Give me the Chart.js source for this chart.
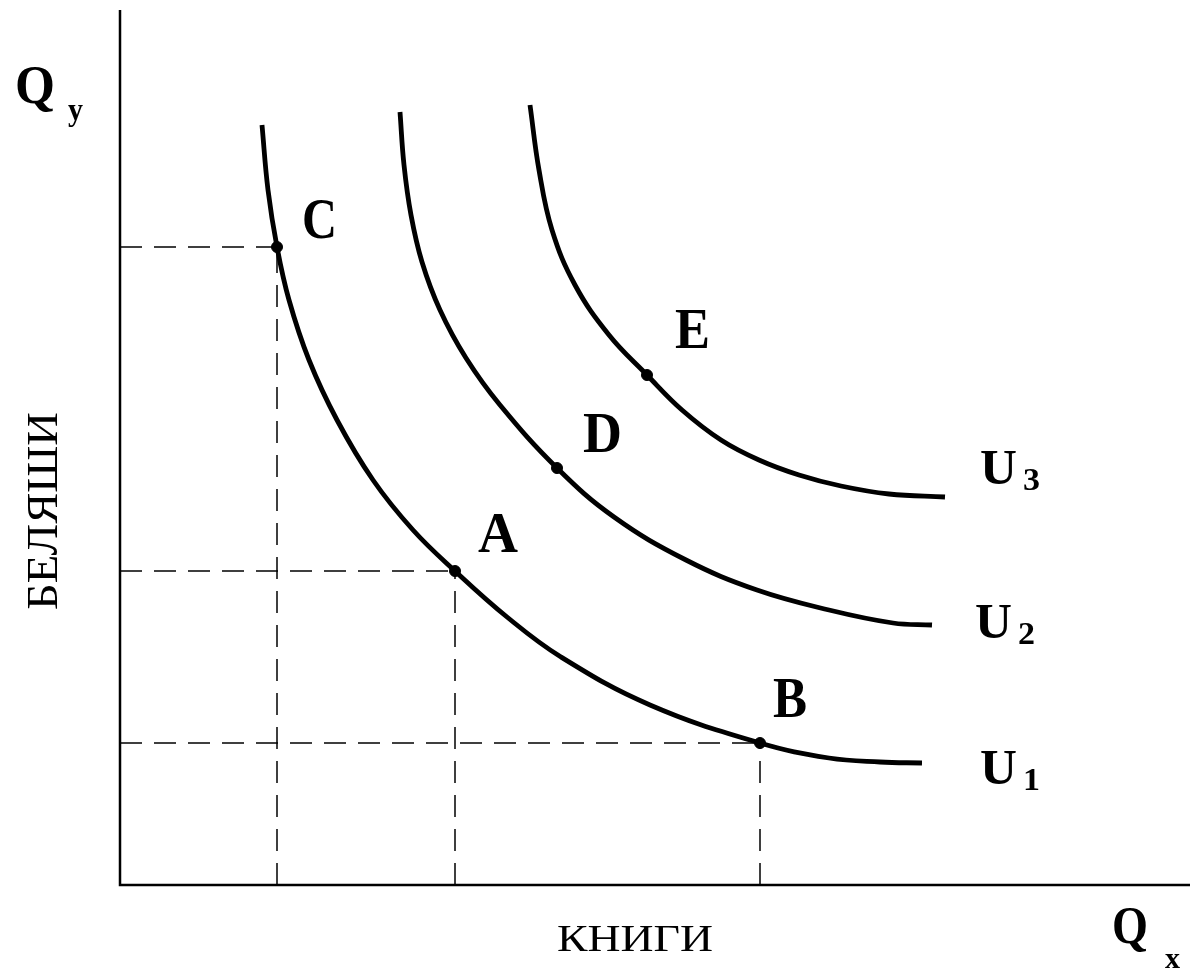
<!DOCTYPE html>
<html>
<head>
<meta charset="utf-8">
<script src="https://cdn.jsdelivr.net/npm/chart.js@4.4.1/dist/chart.umd.min.js"></script>
<style>
  html, body { margin: 0; padding: 0; background: #fff; }
  canvas { display: block; }
</style>
</head>
<body>
<canvas id="chart" width="1190" height="972"></canvas>
<script>
// indifference curves (arbitrary units: books on x, belyashi on y)
var u1X = [14.2, 14.8, 15.7, 16.9, 18.9, 21.7, 25.3, 29.3, 33.5, 38.7, 44.1, 53.0, 64.0, 70.9, 76.0, 80.2];
var u1Y = [76.0, 69.5, 63.8, 58.5, 52.5, 46.5, 40.5, 35.5, 31.4, 26.8, 22.8, 18.0, 14.2, 12.7, 12.3, 12.2];

var u2X = [28.0, 28.4, 29.1, 30.2, 32.0, 34.6, 38.0, 43.7, 49.4, 56.6, 63.7, 70.9, 77.3, 81.2];
var u2Y = [77.3, 72.0, 67.0, 62.3, 57.5, 52.7, 48.0, 41.7, 36.8, 32.5, 29.5, 27.5, 26.2, 26.0];

var u3X = [41.0, 41.9, 43.2, 45.5, 48.9, 52.7, 56.2, 60.1, 63.9, 67.9, 72.1, 76.9, 82.5];
var u3Y = [78.0, 71.5, 65.5, 60.0, 55.0, 51.0, 47.5, 44.5, 42.5, 41.0, 39.9, 39.1, 38.8];

var curveNames = ['U1', 'U2', 'U3'];

// marked bundles
var pointNames = ['C', 'A', 'B', 'D', 'E'];
var pointX = [15.7, 33.5, 64.0, 43.7, 52.7];
var pointY = [63.8, 31.4, 14.2, 41.7, 51.0];
var guidePoints = ['C', 'A', 'B'];   // these get dashed projections to the axes

var axisMaxX = 107;
var axisMaxY = 87.5;

var xTitle = 'КНИГИ';
var yTitle = 'БЕЛЯШИ';

function zip(xs, ys) {
  return xs.map(function(x, i) { return { x: x, y: ys[i] }; });
}

function stretchText(ctx, text, x, y, font, width) {
  ctx.save();
  ctx.font = font;
  var w = ctx.measureText(text).width;
  ctx.translate(x, y);
  ctx.scale(width / w, 1);
  ctx.fillText(text, 0, 0);
  ctx.restore();
}

var datasets = [];

// axes
datasets.push({
  data: [{ x: 0, y: axisMaxY }, { x: 0, y: 0 }, { x: axisMaxX, y: 0 }],
  borderColor: '#000', borderWidth: 2.5, pointRadius: 0, clip: false, tension: 0
});

// dashed projections, each dash run starting at its axis
guidePoints.forEach(function(name) {
  var i = pointNames.indexOf(name);
  var dash = { borderColor: '#000', borderWidth: 1.5, borderDash: [22, 12], pointRadius: 0, clip: false, tension: 0 };
  datasets.push(Object.assign({ data: [{ x: 0, y: pointY[i] }, { x: pointX[i], y: pointY[i] }] }, dash));
  datasets.push(Object.assign({ data: [{ x: pointX[i], y: 0 }, { x: pointX[i], y: pointY[i] }] }, dash));
});

// curves
[[u1X, u1Y], [u2X, u2Y], [u3X, u3Y]].forEach(function(c) {
  datasets.push({
    data: zip(c[0], c[1]),
    borderColor: '#000', borderWidth: 4.8, pointRadius: 0,
    tension: 0.4, clip: false, borderCapStyle: 'butt'
  });
});

// bundle dots
datasets.push({
  data: zip(pointX, pointY),
  showLine: false, pointRadius: 5.5, pointBackgroundColor: '#000',
  pointBorderColor: '#000', clip: false
});

var labelPlugin = {
  id: 'labels',
  beforeDraw: function(chart) {
    var ctx = chart.ctx;
    ctx.save();
    ctx.fillStyle = '#fff';
    ctx.fillRect(0, 0, chart.width, chart.height);
    ctx.restore();
  },
  afterDraw: function(chart) {
    var ctx = chart.ctx;
    var xs = chart.scales.x, ys = chart.scales.y;
    var area = chart.chartArea;
    ctx.save();
    ctx.fillStyle = '#000';
    ctx.textAlign = 'left';
    ctx.textBaseline = 'alphabetic';

    // point letters, offset from their dot
    var pointOffsets = { C: [25, -9, 35], A: [23, -19, 40], B: [13, -26, 34], D: [26, -16, 39], E: [28, -27, 35] };
    pointNames.forEach(function(name, i) {
      var px = xs.getPixelForValue(pointX[i]);
      var py = ys.getPixelForValue(pointY[i]);
      var o = pointOffsets[name];
      stretchText(ctx, name, px + o[0], py + o[1], 'bold 57px "Liberation Serif"', o[2]);
    });

    // curve names at the right end of each curve
    var curveEnds = [[u1X, u1Y, 58, 21], [u2X, u2Y, 43, 13], [u3X, u3Y, 35, -13]];
    curveEnds.forEach(function(c, k) {
      var n = c[0].length - 1;
      var px = xs.getPixelForValue(c[0][n]) + c[2];
      var py = ys.getPixelForValue(c[1][n]) + c[3];
      stretchText(ctx, 'U', px, py, 'bold 50px "Liberation Serif"', 37);
      stretchText(ctx, curveNames[k].slice(1), px + 43, py + 6, 'bold 32px "Liberation Serif"', 17);
    });

    // axis symbols
    stretchText(ctx, 'Q', area.left - 105, area.top + 93, 'bold 54px "Liberation Serif"', 40);
    stretchText(ctx, 'y', area.left - 52, area.top + 110, 'bold 32px "Liberation Serif"', 15);
    stretchText(ctx, 'Q', area.right - 78, area.bottom + 58, 'bold 52px "Liberation Serif"', 36);
    stretchText(ctx, 'x', area.right - 25, area.bottom + 83, 'bold 30px "Liberation Serif"', 15);

    // axis titles
    stretchText(ctx, xTitle, 557, area.bottom + 66, '38px "Liberation Serif"', 156);
    ctx.save();
    ctx.translate(57, 610);
    ctx.rotate(-Math.PI / 2);
    stretchText(ctx, yTitle, 0, 0, '44px "Liberation Serif"', 198);
    ctx.restore();

    ctx.restore();
  }
};

new Chart(document.getElementById('chart').getContext('2d'), {
  type: 'line',
  data: { datasets: datasets },
  options: {
    responsive: false,
    animation: false,
    layout: { autoPadding: false, padding: { left: 120, top: 10, right: 0, bottom: 87 } },
    plugins: { legend: { display: false }, tooltip: { enabled: false } },
    scales: {
      x: { type: 'linear', min: 0, max: axisMaxX, display: false },
      y: { type: 'linear', min: 0, max: axisMaxY, display: false }
    }
  },
  plugins: [labelPlugin]
});
</script>
</body>
</html>
